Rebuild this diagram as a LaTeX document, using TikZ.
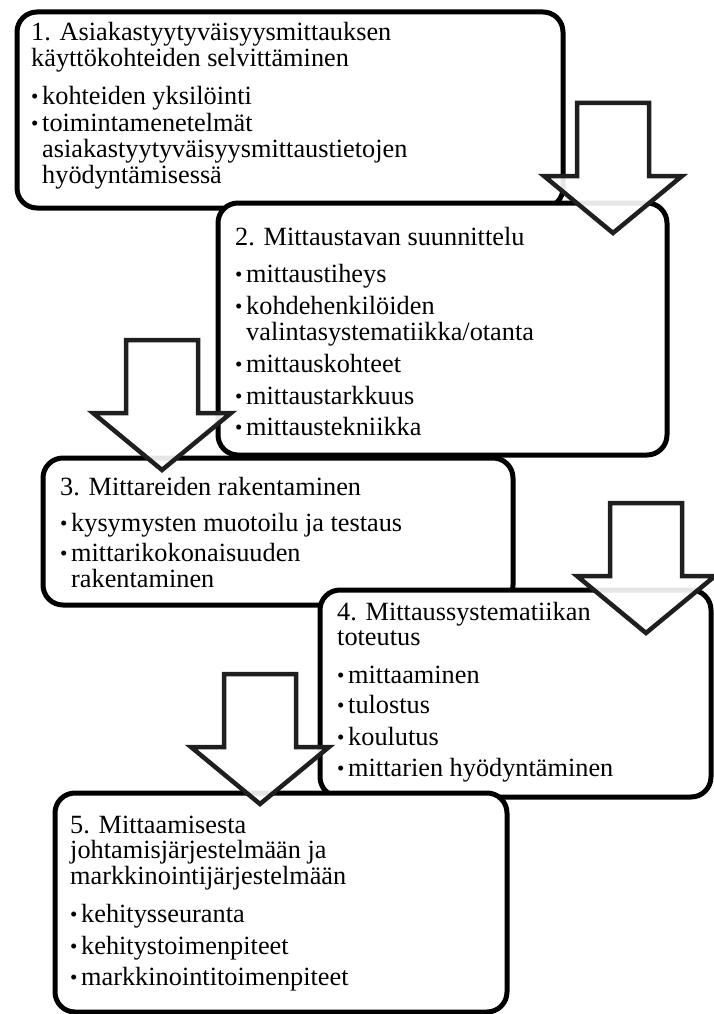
\documentclass[tikz,border=0pt]{standalone}
\usepackage{fontspec}
\setmainfont{Liberation Serif}
\tikzset{
  box/.style={draw, line width=5pt, rounded corners=20pt, fill=white,
    outer sep=0pt, inner sep=0pt, anchor=north west},
  txt/.style={anchor=base west, inner sep=0pt,
    font=\fontsize{26.3}{25.5}\selectfont},
  blockarrow/.style={draw=black!88, line width=4.5pt, fill=white, fill opacity=0.9}
}
\newcommand{\itm}{\makebox[11pt][l]{\raisebox{1pt}{\fontsize{21}{21}\selectfont\textbullet}}}
\newcommand{\ind}{\hspace*{11pt}}
\newcommand{\steplines}[1]{\begin{tabular}[t]{@{}l@{}}#1\end{tabular}}

\begin{document}
\begin{tikzpicture}[x=1pt,y=-1pt]
  \useasboundingbox (0,0) rectangle (713,1014);
  % boxes
  \node[box, minimum width=546pt, minimum height=196pt] (b1) at (17,12) {};
  \node[txt] (t1) at (31,41) {\steplines{1. Asiakastyytyväisyysmittauksen\\käyttökohteiden selvittäminen\\[12pt]\itm kohteiden yksilöinti\\[1pt]\itm toimintamenetelmät\\\ind asiakastyytyväisyysmittaustietojen\\\ind hyödyntämisessä}};
  \node[box, minimum width=449pt, minimum height=252pt] (b2) at (218,203) {};
  \node[txt] (t2) at (235,245) {\steplines{2. Mittaustavan suunnittelu\\[12pt]\itm mittaustiheys\\[6pt]\itm kohdehenkilöiden\\\ind valintasystematiikka/otanta\\[6pt]\itm mittauskohteet\\[6pt]\itm mittaustarkkuus\\[5pt]\itm mittaustekniikka}};
  \node[box, minimum width=470pt, minimum height=147pt] (b3) at (43,458) {};
  \node[txt] (t3) at (60,495) {\steplines{3. Mittareiden rakentaminen\\[11pt]\itm kysymysten muotoilu ja testaus\\[4pt]\itm mittarikokonaisuuden\\\ind rakentaminen}};
  \node[box, minimum width=391pt, minimum height=207pt] (b4) at (320,590) {};
  \node[txt] (t4) at (337,620) {\steplines{4. Mittaussystematiikan\\toteutus\\[12pt]\itm mittaaminen\\[5pt]\itm tulostus\\[6pt]\itm koulutus\\[5pt]\itm mittarien hyödyntäminen}};
  \node[box, minimum width=452pt, minimum height=219pt] (b5) at (55,793) {};
  \node[txt] (t5) at (70,833) {\steplines{5. Mittaamisesta\\johtamisjärjestelmään ja\\markkinointijärjestelmään\\[12pt]\itm kehitysseuranta\\[6pt]\itm kehitystoimenpiteet\\[5pt]\itm markkinointitoimenpiteet}};
  % arrows between the steps
  \foreach \x/\y in {613/233, 162/470, 646/633, 260/804}
    \draw[blockarrow] (\x-36,\y-130) -- (\x+36,\y-130) -- (\x+36,\y-57) -- (\x+69,\y-57)
      -- (\x,\y) -- (\x-69,\y-57) -- (\x-36,\y-57) -- cycle;
\end{tikzpicture}
\end{document}
